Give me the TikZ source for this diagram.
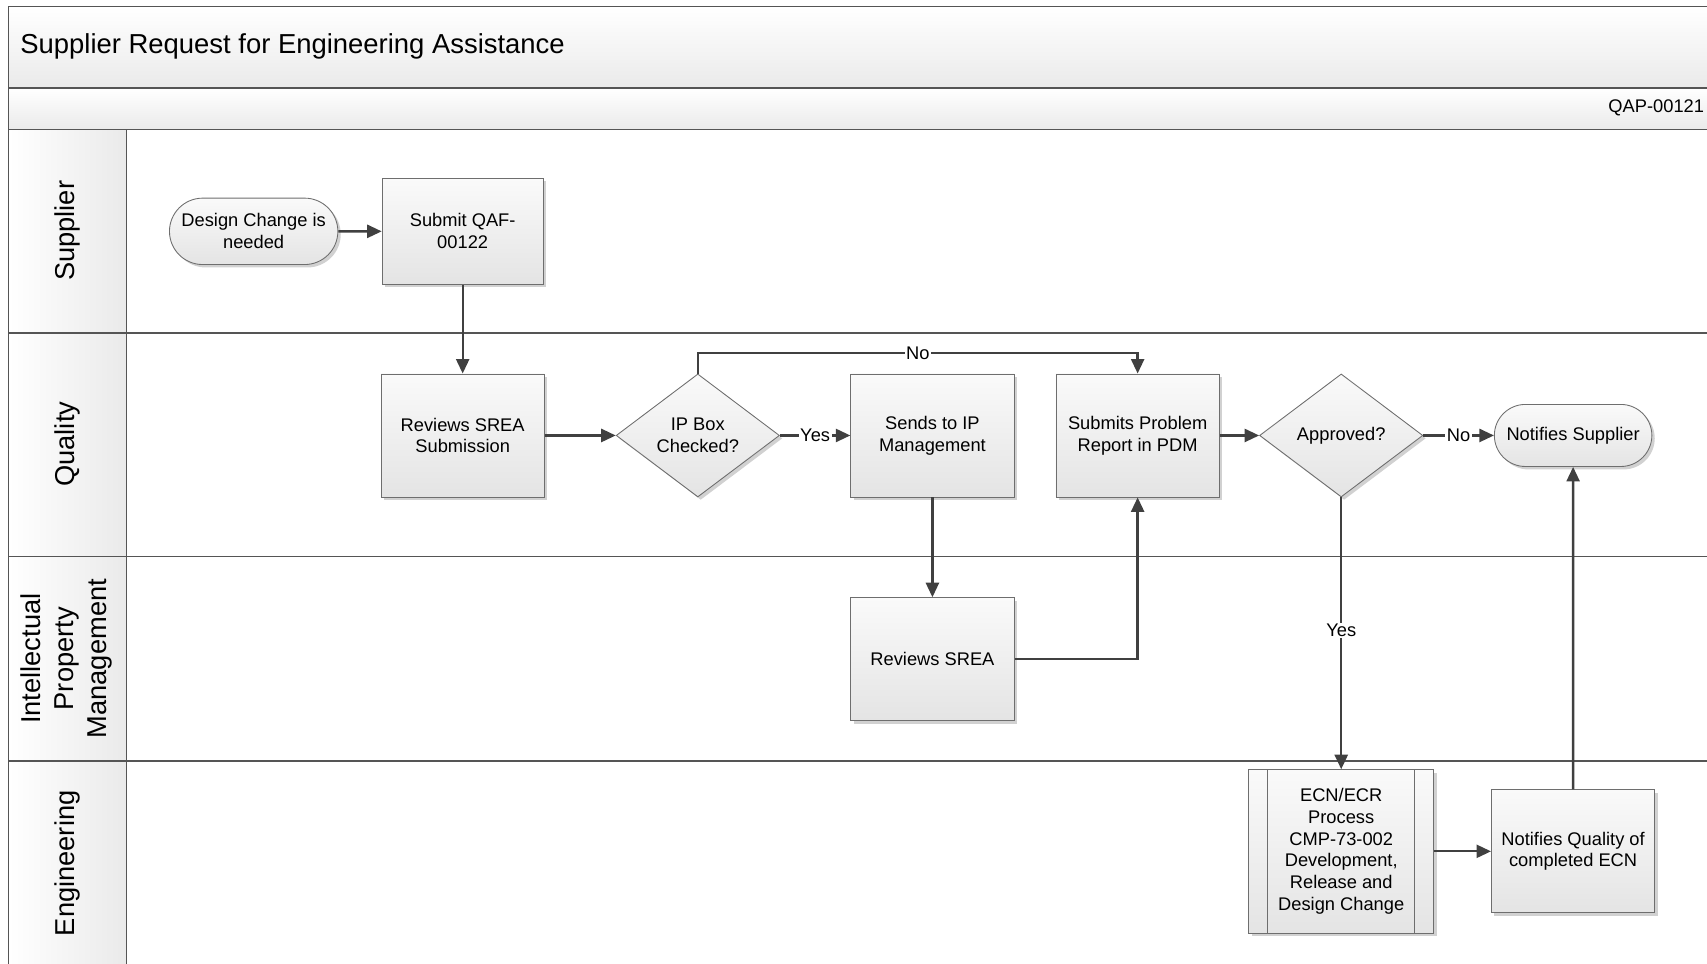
\documentclass[tikz,border=0pt]{standalone}
\usepackage{fontspec}
\setmainfont{Liberation Sans}
\usetikzlibrary{shapes.geometric,shapes.misc,arrows.meta,shadows}

\definecolor{lineclr}{HTML}{404040}
\definecolor{edgeclr}{HTML}{6E6E6E}
\definecolor{frameclr}{HTML}{555555}
\definecolor{boxtop}{HTML}{FAFAFA}
\definecolor{boxbot}{HTML}{E4E4E4}
\definecolor{hdrbot}{HTML}{EAEAEA}

\tikzset{
  flowbox/.style={draw=edgeclr, line width=0.6pt, top color=boxtop, bottom color=boxbot,
    align=center, font=\fontsize{12.6}{15}\selectfont, inner sep=2pt,
    drop shadow={shadow xshift=2pt, shadow yshift=-2pt, fill=black, opacity=0.18}},
  procbox/.style={flowbox, rectangle, minimum width=112.5pt, minimum height=84.75pt},
  decbox/.style={flowbox, diamond, minimum width=112.5pt, minimum height=84.75pt, inner sep=0pt},
  termbox/.style={flowbox, rounded rectangle, minimum width=112.5pt, minimum height=42.75pt},
  flowline/.style={draw=lineclr, line width=1.6pt, -{Triangle[length=10pt,width=9pt]}},
  flowlabel/.style={fill=white, inner sep=1pt, font=\fontsize{12.6}{15}\selectfont},
  lanelabel/.style={rotate=90, align=center, font=\fontsize{18.8}{22.5}\selectfont},
}

\begin{document}
\begin{tikzpicture}[x=0.75pt,y=0.75pt,yscale=-1,xscale=1]
\useasboundingbox (0,0) rectangle (1568,885);
\clip (0,0) rectangle (1568,885);

%Shape: Title band
\draw[frameclr, line width=1pt, top color=white, bottom color=hdrbot] (8,6) rectangle (1590,81);
%Shape: Id band
\draw[frameclr, line width=1pt, top color=white, bottom color=hdrbot] (8,81) rectangle (1590,119);
%Shape: Lane headers
\foreach \ytop/\ybot in {119/306, 306/511, 511/699, 699/900}{
  \draw[frameclr, line width=1pt, left color=white, right color=hdrbot] (8,\ytop) rectangle (116,\ybot);
  \draw[frameclr, line width=1pt] (116,\ytop) rectangle (1590,\ybot);
}

% Text Node
\node[anchor=west, font=\fontsize{18.9}{22}\selectfont] (title) at (14,43) {Supplier Request for Engineering Assistance};
% Text Node
\node[anchor=east, font=\fontsize{12.6}{15}\selectfont] (docid) at (1570,99) {QAP-00121};

% Lane labels
\node[lanelabel] (lsup) at (62,212) {Supplier};
\node[lanelabel] (lqual) at (62,408) {Quality};
\node[lanelabel] (lipm) at (61,605) {Intellectual\\Property\\Management};
\node[lanelabel] (leng) at (62,793) {Engineering};

% Supplier lane
\node[termbox, minimum width=120pt, minimum height=45.75pt] (start) at (233,212.5) {Design Change is\\needed};
\node[procbox, minimum width=111pt, minimum height=72.75pt] (submit) at (425,212.5) {Submit QAF-\\00122};

% Quality lane
\node[procbox] (revsub) at (425,400) {Reviews SREA\\Submission};
\node[decbox] (ipbox) at (641,400) {IP Box\\Checked?};
\node[procbox] (sendip) at (856.5,400) {Sends to IP\\Management};
\node[procbox] (submitpdm) at (1045,400) {Submits Problem\\Report in PDM};
\node[decbox] (approved) at (1232,400) {Approved?};
\node[termbox] (notsup) at (1445,400) {Notifies Supplier};

% IP Management lane
\node[procbox] (revsrea) at (856.5,605.5) {Reviews SREA};

% Engineering lane
\node[procbox, minimum width=127.5pt, minimum height=112.5pt] (ecn) at (1232,782) {ECN/ECR\\Process\\CMP-73-002\\Development,\\Release and\\Design Change};
\draw[edgeclr, line width=0.6pt] ([xshift=13.5pt]ecn.north west) -- ([xshift=13.5pt]ecn.south west);
\draw[edgeclr, line width=0.6pt] ([xshift=-13.5pt]ecn.north east) -- ([xshift=-13.5pt]ecn.south east);
\node[procbox] (notq) at (1445,782) {Notifies Quality of\\completed ECN};

%Straight Lines
\draw[flowline] (start) -- (submit);
\draw[flowline] (submit) -- (revsub);
\draw[flowline] (revsub) -- (ipbox);
\draw[flowline] (ipbox) -- node[flowlabel]{Yes} (sendip);
\draw[flowline] (ipbox.north) -- ++(0,-19) -| node[flowlabel, pos=0.25]{No} (submitpdm.north);
\draw[flowline] (sendip) -- (revsrea);
\draw[flowline] (revsrea.east) -| (submitpdm.south);
\draw[flowline] (submitpdm) -- (approved);
\draw[flowline] (approved) -- node[flowlabel]{No} (notsup);
\draw[flowline] (approved) -- node[flowlabel, pos=0.49]{Yes} (ecn);
\draw[flowline] (ecn) -- (notq);
\draw[flowline] (notq) -- (notsup);
\end{tikzpicture}
\end{document}
